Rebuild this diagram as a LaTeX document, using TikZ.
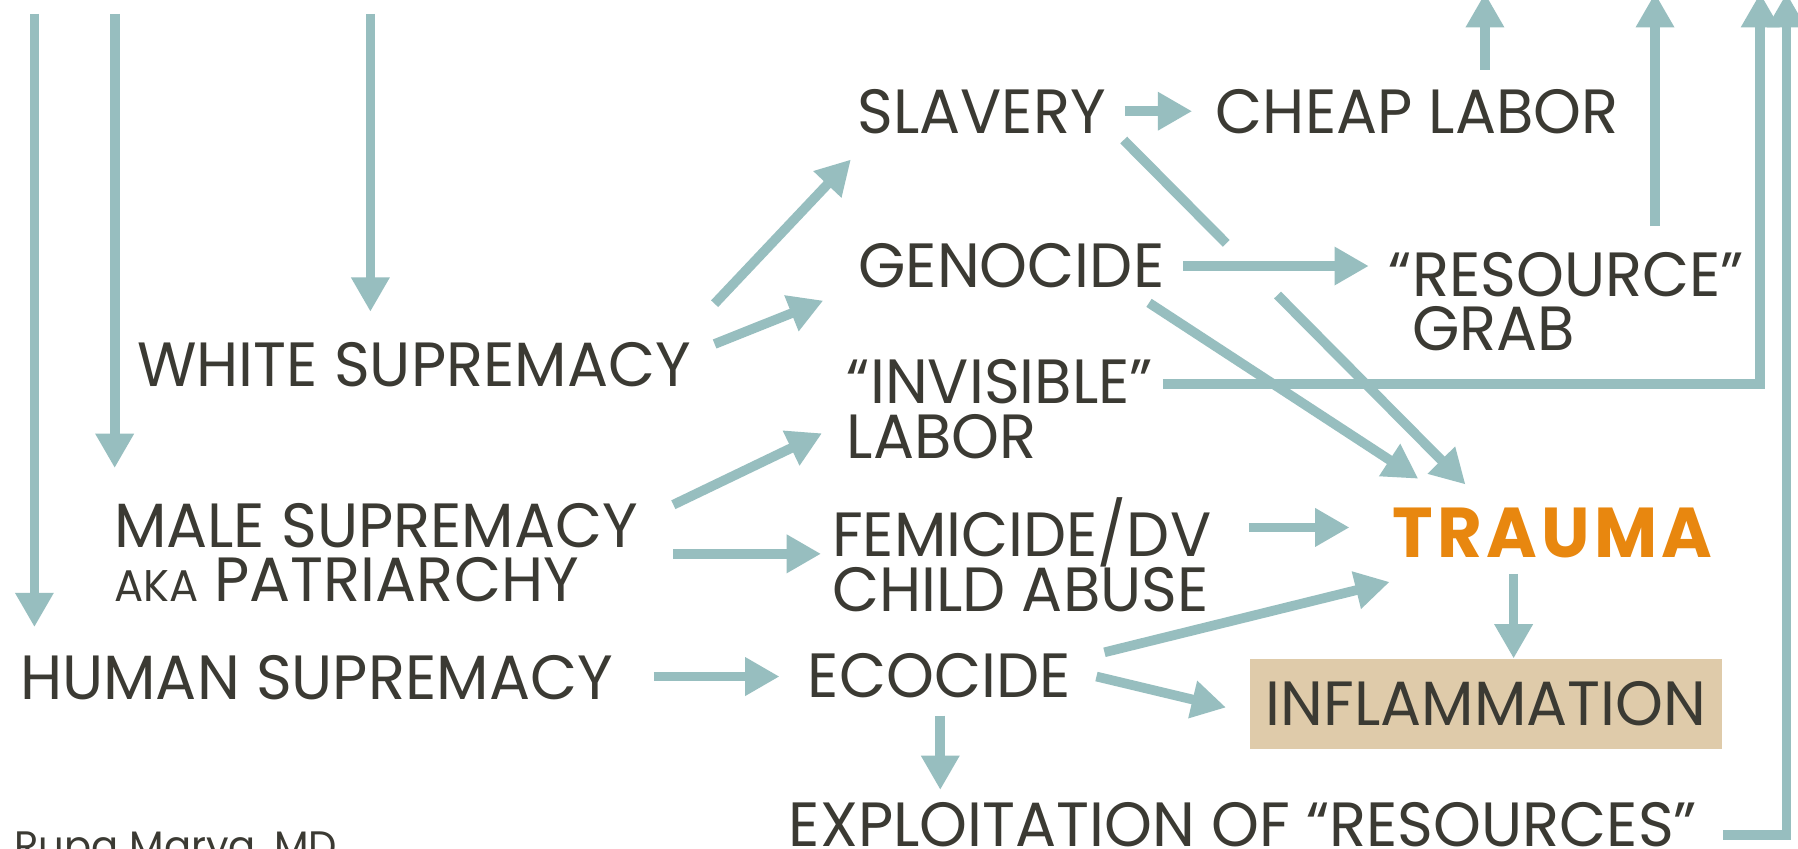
\documentclass[tikz,border=0pt]{standalone}
\usepackage{fontspec}
\setmainfont{Poppins}[FakeStretch=0.975]
\usetikzlibrary{arrows.meta,calc}
\setlength{\lineskiplimit}{-20pt}

\definecolor{arrowteal}{HTML}{97BEBF}
\definecolor{inktext}{HTML}{3B3A33}
\definecolor{traumaorange}{HTML}{E8870F}
\definecolor{inflamtan}{HTML}{DFCBAA}

\tikzset{
  box/.style={font=\fontsize{15.5}{13.5}\selectfont, text=inktext, inner sep=0pt, align=left},
  link/.style={draw=arrowteal, line width=2.4pt},
  arr/.style={link, -{Triangle[width=9pt,length=8.5pt]}},
}

\begin{document}
\begin{tikzpicture}[x=0.01cm,y=-0.01cm]
\useasboundingbox[fill=white] (0,0) rectangle (1568,740);

% roots
\node[box] (white) at (361,318) {WHITE SUPREMACY};
\node[box] (male) at (328,482) {MALE SUPREMACY\\{\fontsize{11}{13}\selectfont AKA} PATRIARCHY};
\node[box] (human) at (276,591) {HUMAN SUPREMACY};

% middle column
\node[box] (slavery) at (856,97) {SLAVERY};
\node[box] (genocide) at (882,232) {GENOCIDE};
\node[box] (invisible) at (872,357) {“INVISIBLE”\\LABOR};
\node[box] (femicide) at (891,484) {FEMICIDE/DV\\CHILD ABUSE};
\node[box] (ecocide) at (819,589) {ECOCIDE};
\node[box] (exploit) at (1084,719) {EXPLOITATION OF “RESOURCES”};

% right column
\node[box] (cheap) at (1236,97) {CHEAP LABOR};
\node[box] (resource) at (1376,263) {\llap{“}RESOURCE”\\GRAB};
\node[box, font=\fontsize{17.5}{20}\bfseries\addfontfeatures{LetterSpace=6}, text=traumaorange] (trauma) at (1354,465) {TRAUMA};
\node[box, fill=inflamtan, minimum width=4.12cm, minimum height=0.78cm, align=center] (inflam) at (1296,614) {INFLAMMATION};

\node[box, font=\fontsize{10.2}{12}\selectfont, anchor=north west] (marya) at (12,725) {Rupa Marya, MD};

% incoming from above
\coordinate (top) at (0,-6);
\coordinate (hs0) at (30,12);
\coordinate (ms0) at (100,12);
\coordinate (ws0) at (323,12);
\draw[arr] (hs0) -- ([shift={(0,-24)}]hs0 |- human.north);
\draw[arr] (ms0) -- ([shift={(0,-30)}]ms0 |- male.north);
\draw[arr] (ws0) -- ([shift={(0,-26)}]ws0 |- white.north);

% white supremacy
\draw[arr] ([shift={(20,-33)}]white.north east) -- ([shift={(-5,22)}]slavery.south west);
\draw[arr] ([shift={(20,-18)}]white.east) -- ([shift={(-30,10)}]genocide.south west);

% slavery
\draw[arr] ([shift={(16,0)}]slavery.east) -- ([shift={(-20,0)}]cheap.west);
\coordinate (sl0) at ([shift={(15,5)}]slavery.south east);
\coordinate (sl1) at ([shift={(-76,-20)}]trauma.north);
\draw[link] (sl0) -- ($(sl0)!0.3!(sl1)$);
\draw[arr] ($(sl0)!0.45!(sl1)$) -- (sl1);

% genocide
\draw[arr] ([shift={(16,0)}]genocide.east) -- ($(genocide.east -| resource.west)+(-37,0)$);
\draw[arr] ([shift={(-14,12)}]genocide.south east) -- ([shift={(23,-25)}]trauma.north west);

% going up and out
\coordinate (cl0) at ([shift={(59,-16)}]cheap.north);
\draw[arr] (cl0) -- (cl0 |- top);
\coordinate (rg0) at ([shift={(-78,-22)}]resource.north east);
\draw[arr] (rg0) -- (rg0 |- top);
\coordinate (outA) at (1535,-6);
\coordinate (outB) at (1558,-6);
\draw[arr] ([shift={(8,22)}]invisible.north east) -| (outA);
\draw[arr] ([shift={(22,9)}]exploit.east) -| (outB);

% male supremacy
\draw[arr] ([shift={(30,2)}]male.north east) -- ([shift={(-21,-23)}]invisible.south west);
\draw[arr] ([shift={(30,1)}]male.east) -- ([shift={(-9,-1)}]femicide.west);
\draw[arr] ([shift={(32,-24)}]femicide.east) -- ([shift={(-37,-5)}]trauma.west);

% human supremacy
\draw[arr] ([shift={(35,-1)}]human.east) -- ([shift={(-24,1)}]ecocide.west);
\draw[arr] ([shift={(29,0)}]ecocide.north east) -- ([shift={(-2,20)}]trauma.south west);
\draw[arr] ([shift={(22,1)}]ecocide.east) -- ([shift={(-20,3)}]inflam.west);
\draw[arr] ([shift={(1,15)}]ecocide.south) -- ([shift={(1,-10)}]ecocide.south |- exploit.north);
\draw[arr] ([shift={(-34,13)}]trauma.south) -- ([shift={(-34,0)}]trauma.south |- inflam.north);
\end{tikzpicture}
\end{document}
